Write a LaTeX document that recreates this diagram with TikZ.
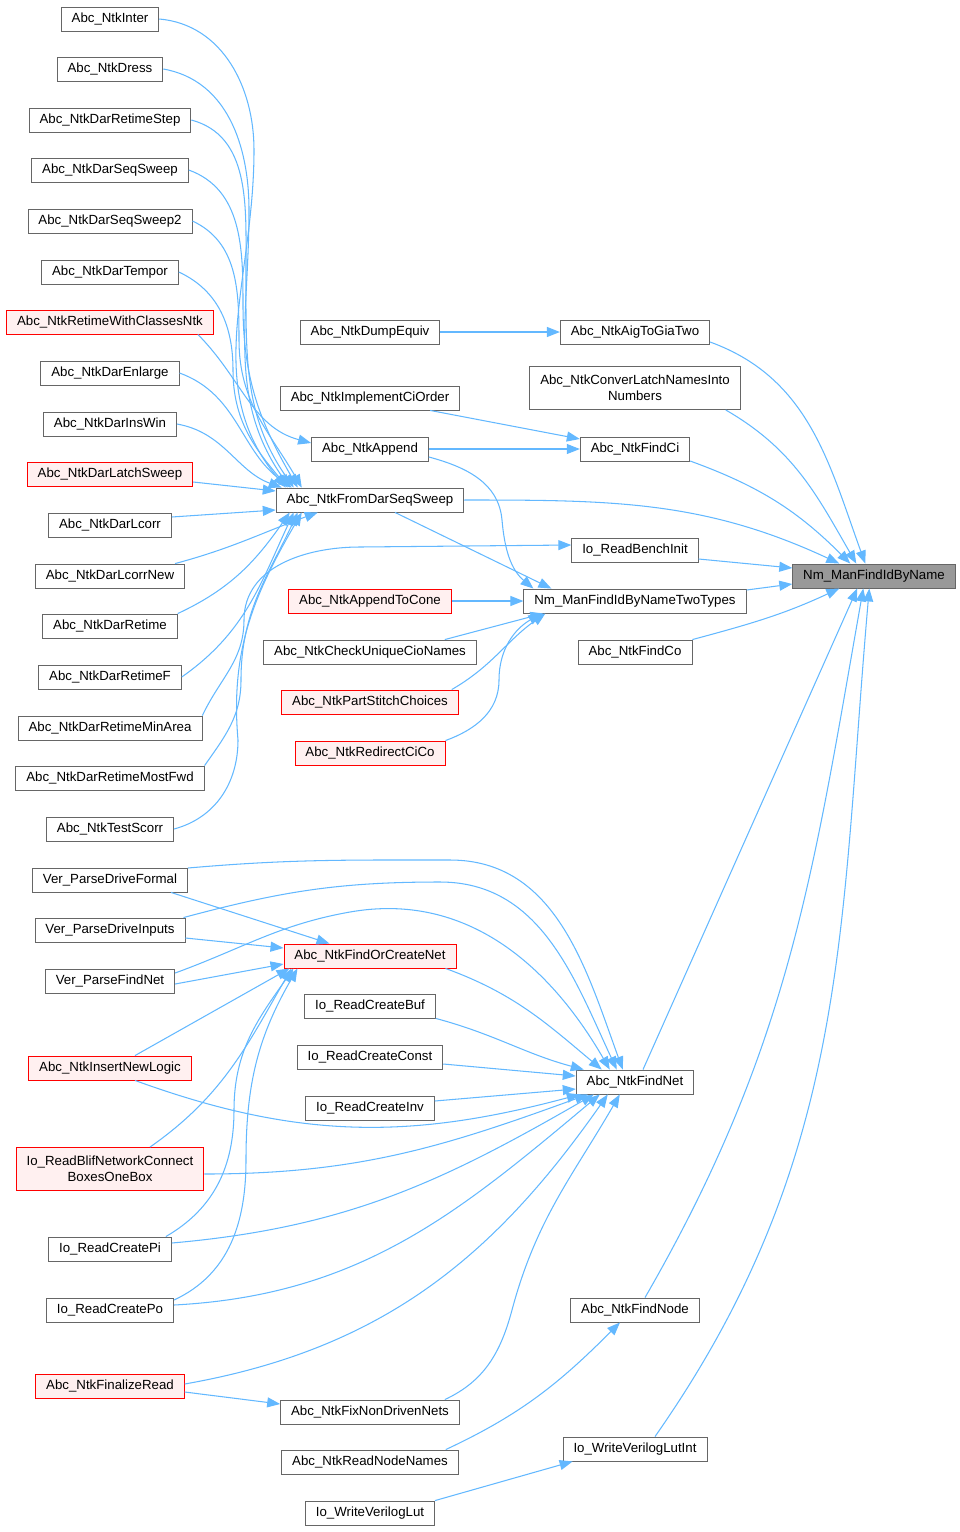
\documentclass[tikz,border=0pt]{standalone}
\usepackage{fontspec}
\setmainfont{Liberation Sans}
\usetikzlibrary{arrows.meta,calc}

\definecolor{bordo}{HTML}{666666}
\definecolor{bordorosso}{HTML}{FF0000}
\definecolor{fondorosso}{HTML}{FFF0F0}
\definecolor{fondogrigio}{HTML}{999999}
\definecolor{azzurro}{HTML}{63B8FF}

\begin{document}
\begin{tikzpicture}[
  x=0.02cm, y=-0.02cm,
  font=\fontsize{7.55}{9.1}\selectfont,
  nodo/.style={draw=bordo, fill=white, line width=0.5pt, minimum height=0.48cm,
    inner xsep=0.21cm, inner ysep=1pt, align=center},
  nodorosso/.style={nodo, draw=bordorosso, fill=fondorosso},
  radice/.style={nodo, fill=fondogrigio},
  doppio/.style={minimum height=0.86cm},
  freccia/.style={draw=azzurro, line width=0.6pt, -{Triangle[length=0.26cm, width=0.2cm]}}
]
\useasboundingbox (0,0) rectangle (960,1532);

%--------------------------------------------------------------
% Colonna di sinistra: chiamanti
%--------------------------------------------------------------
\node[nodo] (inter) at (110,19) {Abc\_NtkInter};
\node[nodo] (dress) at (110,69) {Abc\_NtkDress};
\node[nodo] (retstep) at (110,120) {Abc\_NtkDarRetimeStep};
\node[nodo] (seqsw) at (110,170) {Abc\_NtkDarSeqSweep};
\node[nodo] (seqsw2) at (110,221) {Abc\_NtkDarSeqSweep2};
\node[nodo] (tempor) at (110,272) {Abc\_NtkDarTempor};
\node[nodorosso] (retclass) at (110,322) {Abc\_NtkRetimeWithClassesNtk};
\node[nodo] (enlarge) at (110,373) {Abc\_NtkDarEnlarge};
\node[nodo] (inswin) at (110,424) {Abc\_NtkDarInsWin};
\node[nodorosso] (latchsw) at (110,474) {Abc\_NtkDarLatchSweep};
\node[nodo] (lcorr) at (110,525) {Abc\_NtkDarLcorr};
\node[nodo] (lcorrnew) at (110,576) {Abc\_NtkDarLcorrNew};
\node[nodo] (retime) at (110,626) {Abc\_NtkDarRetime};
\node[nodo] (retimef) at (110,677) {Abc\_NtkDarRetimeF};
\node[nodo] (minarea) at (110,728) {Abc\_NtkDarRetimeMinArea};
\node[nodo] (mostfwd) at (110,778) {Abc\_NtkDarRetimeMostFwd};
\node[nodo] (testscorr) at (110,829) {Abc\_NtkTestScorr};
\node[nodo] (drvformal) at (110,880) {Ver\_ParseDriveFormal};
\node[nodo] (drvinputs) at (110,930) {Ver\_ParseDriveInputs};
\node[nodo] (findnetv) at (110,981) {Ver\_ParseFindNet};
\node[nodorosso] (insert) at (110,1068) {Abc\_NtkInsertNewLogic};
\node[nodorosso, doppio] (blifbox) at (110,1169) {Io\_ReadBlifNetworkConnect\\BoxesOneBox};
\node[nodo] (createpi) at (110,1249) {Io\_ReadCreatePi};
\node[nodo] (createpo) at (110,1310) {Io\_ReadCreatePo};
\node[nodorosso] (finalize) at (110,1386) {Abc\_NtkFinalizeRead};

%--------------------------------------------------------------
% Colonna centrale
%--------------------------------------------------------------
\node[nodo] (dumpeq) at (370,332) {Abc\_NtkDumpEquiv};
\node[nodo] (ciorder) at (370,398) {Abc\_NtkImplementCiOrder};
\node[nodo] (append) at (370,449) {Abc\_NtkAppend};
\node[nodo] (fds) at (370,500) {Abc\_NtkFromDarSeqSweep};
\node[nodorosso] (tocone) at (370,601) {Abc\_NtkAppendToCone};
\node[nodo] (checkcio) at (370,652) {Abc\_NtkCheckUniqueCioNames};
\node[nodorosso] (stitch) at (370,702) {Abc\_NtkPartStitchChoices};
\node[nodorosso] (redirect) at (370,753) {Abc\_NtkRedirectCiCo};
\node[nodorosso] (focn) at (370,956) {Abc\_NtkFindOrCreateNet};
\node[nodo] (crbuf) at (370,1006) {Io\_ReadCreateBuf};
\node[nodo] (crconst) at (370,1057) {Io\_ReadCreateConst};
\node[nodo] (crinv) at (370,1108) {Io\_ReadCreateInv};
\node[nodo] (fixnd) at (370,1412) {Abc\_NtkFixNonDrivenNets};
\node[nodo] (nodenames) at (370,1462) {Abc\_NtkReadNodeNames};
\node[nodo] (vlut) at (370,1513) {Io\_WriteVerilogLut};

%--------------------------------------------------------------
% Colonna di destra e radice
%--------------------------------------------------------------
\node[nodo] (aiggia) at (635,332) {Abc\_NtkAigToGiaTwo};
\node[nodo, doppio] (convlatch) at (635,388) {Abc\_NtkConverLatchNamesInto\\Numbers};
\node[nodo] (findci) at (635,449) {Abc\_NtkFindCi};
\node[nodo] (benchinit) at (635,550) {Io\_ReadBenchInit};
\node[nodo] (twotypes) at (635,601) {Nm\_ManFindIdByNameTwoTypes};
\node[nodo] (findco) at (635,652) {Abc\_NtkFindCo};
\node[nodo] (findnet) at (635,1082) {Abc\_NtkFindNet};
\node[nodo] (findnode) at (635,1310) {Abc\_NtkFindNode};
\node[nodo] (vlutint) at (635,1449) {Io\_WriteVerilogLutInt};
\node[radice] (nm) at (874,576) {Nm\_ManFindIdByName};

%--------------------------------------------------------------
% Chiamate verso Abc_NtkFromDarSeqSweep
%--------------------------------------------------------------
\draw[freccia] (inter.east) to[out=-5,in=90] (254,150) to[out=-90,in=130] ($(fds.north west)+(10,0)$);
\draw[freccia] (dress.east) to[out=-10,in=90] (249,210) to[out=-90,in=125] ($(fds.north west)+(14,0)$);
\draw[freccia] (retstep.east) to[out=-15,in=90] (246,265) to[out=-90,in=125] ($(fds.north west)+(18,0)$);
\draw[freccia] (seqsw.east) to[out=-20,in=90] (243,305) to[out=-90,in=120] ($(fds.north west)+(22,0)$);
\draw[freccia] (seqsw2.east) to[out=-25,in=90] (239,340) to[out=-90,in=120] ($(fds.north west)+(26,0)$);
\draw[freccia] (tempor.east) to[out=-25,in=90] (233,370) to[out=-90,in=130] ($(fds.north west)+(12,0)$);
\draw[freccia] (enlarge.east) to[out=-20,in=145] ($(fds.north west)+(16,0)$);
\draw[freccia] (inswin.east) to[out=-10,in=160] ($(fds.north west)+(6,0)$);
\draw[freccia] ($(latchsw.east)+(0,8)$) -- ($(fds.west)+(0,-9)$);
\draw[freccia] ($(lcorr.east)+(0,-8)$) -- ($(fds.west)+(0,10)$);
\draw[freccia] ($(lcorrnew.north east)+(-10,0)$) to[out=15,in=200] ($(fds.south west)+(42,0)$);
\draw[freccia] (retime.north east) to[out=25,in=235] ($(fds.south west)+(14,0)$);
\draw[freccia] (retimef.east) to[out=35,in=245] ($(fds.south west)+(18,0)$);
\draw[freccia] (mostfwd.north east) to[out=55,in=-90] (241,680) to[out=90,in=245] ($(fds.south west)+(22,0)$);
\draw[freccia] (testscorr.east) to[out=15,in=-90] (238,740) to[out=95,in=240] ($(fds.south west)+(26,0)$);

%--------------------------------------------------------------
% Altre chiamate della parte alta
%--------------------------------------------------------------
\draw[freccia] ($(retclass.south east)+(-16,0)$) to[out=-45,in=165] ($(append.west)+(0,-6)$);
\draw[freccia] (minarea.north east) to[out=65,in=-90] (244,620) to[out=90,in=180] (360,547) -- ($(benchinit.west)+(0,-5)$);
\draw[freccia] (dumpeq.east) -- (aiggia.west);
\draw[freccia] ($(ciorder.south east)+(-30,0)$) -- ($(findci.west)+(0,-10)$);
\draw[freccia] (append.east) -- (findci.west);
\draw[freccia] ($(append.east)+(0,8)$) to[out=-15,in=95] (502,520) to[out=-85,in=140] ($(twotypes.north west)+(10,0)$);
\draw[freccia] ($(fds.south)+(25,0)$) -- ($(twotypes.north west)+(28,0)$);
\draw[freccia] (fds.east) to[out=0,in=155] ($(nm.north west)+(47,0)$);

%--------------------------------------------------------------
% Chiamate verso Nm_ManFindIdByNameTwoTypes
%--------------------------------------------------------------
\draw[freccia] (tocone.east) -- (twotypes.west);
\draw[freccia] ($(checkcio.north east)+(-32,0)$) -- ($(twotypes.south west)+(20,0)$);
\draw[freccia] ($(stitch.north east)+(-7,0)$) to[out=30,in=215] ($(twotypes.south west)+(22,0)$);
\draw[freccia] (redirect.north east) to[out=20,in=-90] (499,680) to[out=90,in=210] ($(twotypes.south west)+(18,0)$);

%--------------------------------------------------------------
% Chiamate verso Nm_ManFindIdByName
%--------------------------------------------------------------
\draw[freccia] ($(aiggia.east)+(0,10)$) to[out=-20,in=110] ($(nm.north west)+(73,0)$);
\draw[freccia] ($(convlatch.south east)+(-15,0)$) to[out=-30,in=120] ($(nm.north west)+(64,0)$);
\draw[freccia] ($(findci.east)+(0,12)$) to[out=-20,in=135] ($(nm.north west)+(58,0)$);
\draw[freccia] ($(benchinit.east)+(0,9)$) -- ($(nm.west)+(0,-8)$);
\draw[freccia] ($(twotypes.east)+(0,-11)$) -- ($(nm.west)+(0,8)$);
\draw[freccia] (findco.north east) to[out=15,in=205] ($(nm.south west)+(47,0)$);
\draw[freccia] ($(findnet.north)+(8,0)$) -- ($(nm.south west)+(65,0)$);
\draw[freccia] ($(findnode.north)+(10,0)$) to[out=60,in=-100] ($(nm.south west)+(71,0)$);
\draw[freccia] ($(vlutint.north)+(20,0)$) to[out=55,in=-95] ($(nm.south west)+(77,0)$);

%--------------------------------------------------------------
% Chiamate verso Abc_NtkFindOrCreateNet
%--------------------------------------------------------------
\draw[freccia] ($(drvformal.south east)+(-17,0)$) -- ($(focn.north west)+(46,0)$);
\draw[freccia] ($(drvinputs.east)+(0,8)$) -- ($(focn.west)+(0,-8)$);
\draw[freccia] ($(findnetv.east)+(0,3)$) -- ($(focn.west)+(0,8)$);
\draw[freccia] ($(insert.north)+(25,0)$) -- ($(focn.south west)+(6,0)$);
\draw[freccia] ($(blifbox.north)+(40,0)$) to[out=35,in=240] ($(focn.south west)+(8,0)$);
\draw[freccia] ($(createpi.north east)+(-6,0)$) to[out=30,in=-90] (234,1110) to[out=90,in=235] ($(focn.south west)+(10,0)$);
\draw[freccia] ($(createpo.east)+(0,-10)$) to[out=25,in=-90] (246,1160) to[out=90,in=240] ($(focn.south west)+(14,0)$);

%--------------------------------------------------------------
% Chiamate verso Abc_NtkFindNet
%--------------------------------------------------------------
\draw[freccia] ($(drvformal.east)+(0,-12)$) to[out=5,in=180] (450,860) to[out=0,in=110] ($(findnet.north west)+(47,0)$);
\draw[freccia] ($(drvinputs.north east)+(-2,0)$) to[out=15,in=180] (440,882) to[out=0,in=115] ($(findnet.north west)+(41,0)$);
\draw[freccia] ($(findnetv.east)+(0,-8)$) to[out=20,in=190] (350,912) to[out=10,in=120] ($(findnet.north west)+(34,0)$);
\draw[freccia] ($(focn.south east)+(-11,0)$) to[out=-20,in=140] ($(findnet.north west)+(26,0)$);
\draw[freccia] (crbuf.south east) to[out=-15,in=165] ($(findnet.north west)+(8,0)$);
\draw[freccia] ($(crconst.east)+(0,7)$) -- ($(findnet.west)+(0,-6)$);
\draw[freccia] ($(crinv.east)+(0,-7)$) -- ($(findnet.west)+(0,7)$);
\draw[freccia] ($(insert.south)+(25,0)$) to[out=-20,in=195] ($(findnet.south west)+(4,0)$);
\draw[freccia] ($(blifbox.east)+(0,5)$) to[out=0,in=200] ($(findnet.south west)+(12,0)$);
\draw[freccia] ($(createpi.east)+(0,-6)$) to[out=5,in=210] ($(findnet.south west)+(18,0)$);
\draw[freccia] ($(createpo.east)+(0,-5)$) to[out=3,in=220] ($(findnet.south west)+(24,0)$);
\draw[freccia] ($(finalize.east)+(0,-2)$) to[out=10,in=235] ($(findnet.south west)+(32,0)$);
\draw[freccia] ($(fixnd.north east)+(-15,0)$) to[out=25,in=-105] (512,1310) to[out=75,in=240] ($(findnet.south west)+(44,0)$);

%--------------------------------------------------------------
% Parte bassa
%--------------------------------------------------------------
\draw[freccia] ($(finalize.east)+(0,6)$) -- ($(fixnd.west)+(0,-8)$);
\draw[freccia] ($(nodenames.north east)+(-13,0)$) to[out=25,in=225] ($(findnode.south)+(-15,0)$);
\draw[freccia] (vlut.north east) -- ($(vlutint.south west)+(10,0)$);

\end{tikzpicture}
\end{document}
